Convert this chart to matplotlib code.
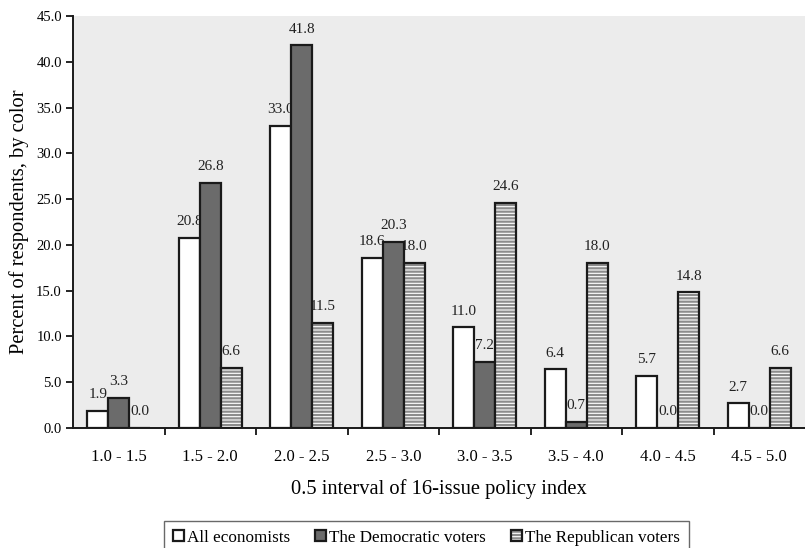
import numpy as np
import matplotlib.pyplot as plt

plt.rcParams['font.family'] = ['Liberation Serif', 'DejaVu Serif']
plt.rcParams['hatch.linewidth'] = 1.6

intervals = ['1.0 - 1.5', '1.5 - 2.0', '2.0 - 2.5', '2.5 - 3.0',
             '3.0 - 3.5', '3.5 - 4.0', '4.0 - 4.5', '4.5 - 5.0']
economists = [1.9, 20.8, 33.0, 18.6, 11.0, 6.4, 5.7, 2.7]
democrats = [3.3, 26.8, 41.8, 20.3, 7.2, 0.7, 0.0, 0.0]
republicans = [0.0, 6.6, 11.5, 18.0, 24.6, 18.0, 14.8, 6.6]

fig = plt.figure(figsize=(8.05, 5.48), dpi=100)
ax = fig.add_axes([73 / 805, 120 / 548, 1 - 73 / 805, 412 / 548])
ax.set_facecolor('#ececec')

x = np.arange(len(intervals))
w = 0.229

b1 = ax.bar(x - w, economists, w, color='white', edgecolor='#1a1a1a', linewidth=1.6, zorder=3)
b2 = ax.bar(x, democrats, w, color='#6b6b6b', edgecolor='#1a1a1a', linewidth=1.6, zorder=3)
# hatched fill first, then a plain outline on top so the stripes stay grey
h3 = ax.bar(x + w, republicans, w, color='white', edgecolor='#8c8c8c', hatch='-----',
            linewidth=0, zorder=3)
b3 = ax.bar(x + w, republicans, w, color='none', edgecolor='#1a1a1a', linewidth=1.6, zorder=4)

for bars, vals in ((b1, economists), (b2, democrats), (b3, republicans)):
    for rect, v in zip(bars, vals):
        ax.annotate(f'{v:.1f}', (rect.get_x() + rect.get_width() / 2, v),
                    xytext=(0, 7), textcoords='offset points', ha='center', va='bottom',
                    fontsize=11, color='#222222', zorder=2)

ax.set_xlim(-0.5, len(intervals) - 0.5)
ax.set_ylim(0, 45)
ax.set_yticks(np.arange(0, 46, 5))
ax.set_yticklabels([f'{t:.1f}' for t in np.arange(0, 46, 5)], fontsize=10.5)
ax.set_xticks(x)
ax.set_xticklabels(intervals, fontsize=12)
ax.set_xticks(np.arange(0.5, len(intervals) - 0.5, 1), minor=True)
ax.tick_params(axis='x', which='major', length=0, pad=15)
ax.tick_params(axis='x', which='minor', length=5, width=1.2, direction='out')
ax.tick_params(axis='y', length=5, width=1.2, direction='out', pad=3)

for s in ('top', 'right'):
    ax.spines[s].set_visible(False)
for s in ('left', 'bottom'):
    ax.spines[s].set_linewidth(1.4)
    ax.spines[s].set_color('#1a1a1a')

ax.set_ylabel('Percent of respondents, by color', fontsize=14.8, labelpad=5)
ax.set_xlabel('0.5 interval of 16-issue policy index', fontsize=14.8, labelpad=10)

fig.legend([b1, b2, (h3[0], b3[0])],
           ['All economists', 'The Democratic voters', 'The Republican voters'],
           loc='upper center', bbox_to_anchor=(426.5 / 805, (548 - 521) / 548), ncol=3,
           fontsize=12.3, frameon=True, fancybox=False, edgecolor='#444444',
           handlelength=0.64, handleheight=0.64, handletextpad=0.2, columnspacing=1.45,
           borderpad=0.5, borderaxespad=0)

fig.savefig('out.png', dpi=100)
